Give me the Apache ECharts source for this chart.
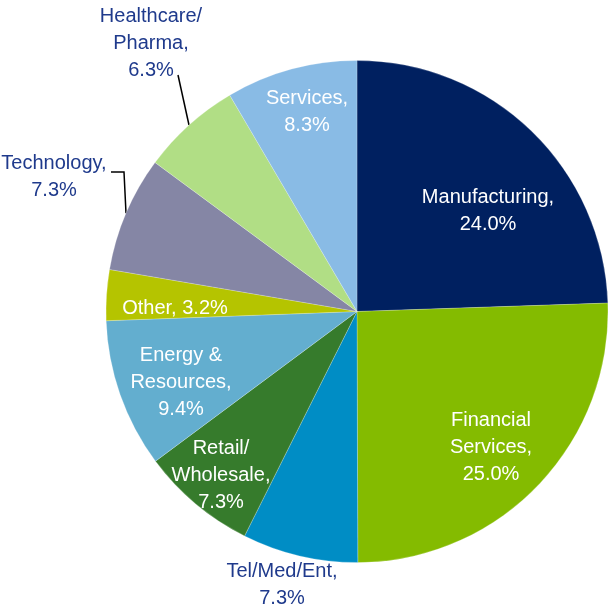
<!DOCTYPE html>
<html>
<head>
<meta charset="utf-8">
<script src="https://cdn.jsdelivr.net/npm/echarts@6/dist/echarts.min.js"></script>
<style>
  html, body { margin: 0; padding: 0; background: #fff; }
  #chart { width: 608px; height: 610px; }
</style>
</head>
<body>
<div id="chart"></div>
<script>
// Sector names (line breaks as displayed) and their shares in percent
const categories = ['Manufacturing', 'Financial\nServices', 'Tel/Med/Ent', 'Retail/\nWholesale',
  'Energy &\nResources', 'Other', 'Technology', 'Healthcare/\nPharma', 'Services'];
const shares = [24.0, 25.0, 7.3, 7.3, 9.4, 3.2, 7.3, 6.3, 8.3];

// Slice fills
const colors = ['#002060', '#84bb00', '#008dc5', '#367b2c', '#63aecf', '#b5c400', '#8586a5', '#b1de85', '#89bbe5'];
// Label text colours (white inside slices, navy outside)
const labelColors = ['#fff', '#fff', '#1f3a8c', '#fff', '#fff', '#fff', '#1f3a8c', '#1f3a8c', '#fff'];
// Label block centres in pixels (layout only)
const labelPos = [[488, 211], [491, 447], [282, 585], [221, 475], [181, 382], [175, 308], [54, 177], [151, 43], [307, 112]];
// Which labels sit outside with a leader line
const outside = [false, false, false, false, false, false, true, true, false];

const data = categories.map((name, i) => ({
  name: name,
  value: shares[i],
  itemStyle: { color: colors[i] },
  label: { color: labelColors[i], position: outside[i] ? 'outside' : 'inside' },
  labelLine: { show: outside[i] }
}));

const chart = echarts.init(document.getElementById('chart'), null, { renderer: 'canvas' });
chart.setOption({
  animation: false,
  series: [{
    type: 'pie',
    center: [357, 311.5],
    radius: 251,
    startAngle: 90,
    clockwise: true,
    avoidLabelOverlap: false,
    itemStyle: { borderColor: 'rgba(255,255,255,0.55)', borderWidth: 0.4 },
    label: {
      show: true,
      fontFamily: 'Liberation Sans, Arial, sans-serif',
      fontSize: 20,
      lineHeight: 27,
      align: 'center',
      formatter: p => p.name + ',' + (p.name === 'Other' ? ' ' : '\n') + p.value.toFixed(1) + '%'
    },
    labelLine: { lineStyle: { color: '#000', width: 1.5 }, length: 10, length2: 10 },
    labelLayout: function (params) {
      const i = params.dataIndex;
      const cx = labelPos[i][0], cy = labelPos[i][1];
      const out = { x: cx, y: cy, align: 'center', verticalAlign: 'middle' };
      if (outside[i] && params.labelLinePoints) {
        const a = params.labelLinePoints[0];
        if (categories[i] === 'Technology') {
          out.labelLinePoints = [a, [cx + 70, cy - 5], [cx + 57, cy - 5]];
        } else {
          const end = [cx + 27, cy + 32];
          out.labelLinePoints = [a, [(a[0] + end[0]) / 2, (a[1] + end[1]) / 2], end];
        }
      }
      return out;
    },
    data: data
  }]
});
</script>
</body>
</html>
